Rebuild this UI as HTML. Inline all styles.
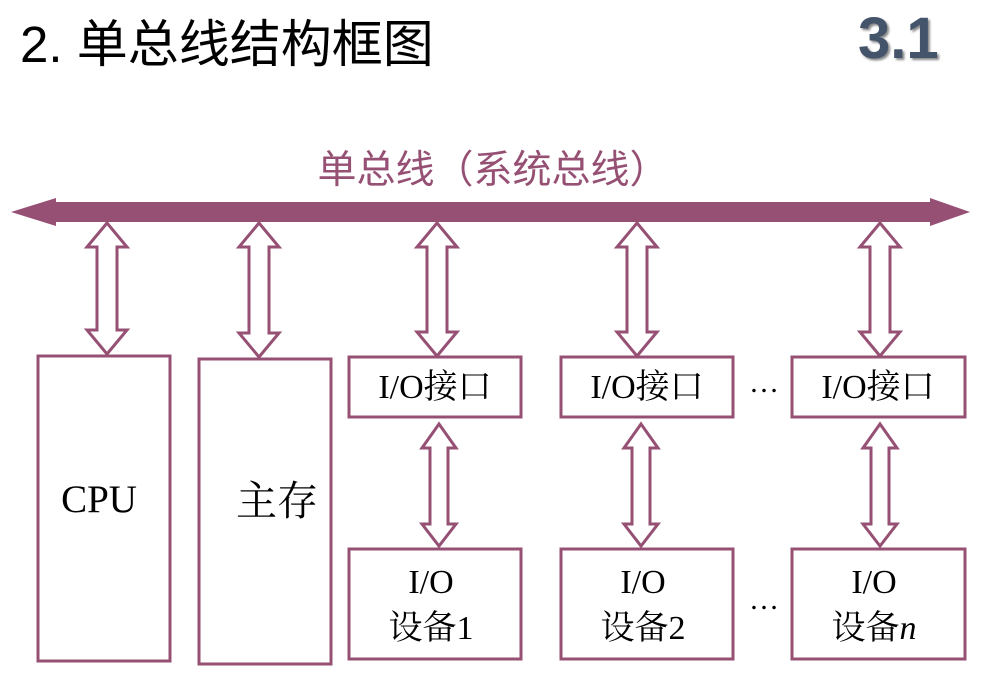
<!DOCTYPE html>
<html><head><meta charset="utf-8"><style>
body{margin:0;background:#fff;width:987px;height:685px;overflow:hidden}
svg{display:block}
</style></head><body>
<svg width="987" height="685" viewBox="0 0 987 685" xmlns="http://www.w3.org/2000/svg">
<text x="20" y="62" font-family="Liberation Sans, Noto Sans CJK SC, sans-serif" font-size="51" fill="#000">2. 单总线结构框图</text>
<text x="858" y="58" font-family="Liberation Sans, sans-serif" font-size="58" font-weight="bold" fill="#44546a" style="text-shadow:2px 2px 2px #888">3.1</text>
<text x="493" y="183" text-anchor="middle" font-family="Liberation Sans, Noto Sans CJK SC, sans-serif" font-size="39" fill="#955073">单总线（系统总线）</text>
<polygon points="11,212 56,198 56,202 930,202 930,198 970,212 930,226 930,222 56,222 56,226" fill="#955073"/>
<g fill="#fff" stroke="#955073" stroke-width="3" stroke-linejoin="miter">
<polygon points="107,223 127,247 117,247 117,330 127,330 107,354 87,330 97,330 97,247 87,247"/>
<polygon points="259,223 279,247 269,247 269,333 279,333 259,357 239,333 249,333 249,247 239,247"/>
<polygon points="437,223 457,247 447,247 447,332 457,332 437,356 417,332 427,332 427,247 417,247"/>
<polygon points="637,223 657,247 647,247 647,332 657,332 637,356 617,332 627,332 627,247 617,247"/>
<polygon points="880,223 900,247 890,247 890,332 900,332 880,356 860,332 870,332 870,247 860,247"/>
<polygon points="439,424 456,448 448,448 448,524 456,524 439,546 422,524 430,524 430,448 422,448"/>
<polygon points="641,424 658,448 650,448 650,524 658,524 641,546 624,524 632,524 632,448 624,448"/>
<polygon points="880,424 897,448 889,448 889,524 897,524 880,546 863,524 871,524 871,448 863,448"/>
<rect x="38" y="356" width="132" height="305"/>
<rect x="199" y="359" width="132" height="305"/>
<rect x="349" y="357" width="172" height="60"/>
<rect x="561" y="357" width="172" height="60"/>
<rect x="792" y="357" width="173" height="60"/>
<rect x="349" y="549" width="172" height="110"/>
<rect x="561" y="549" width="172" height="110"/>
<rect x="792" y="549" width="173" height="110"/>
</g>
<g font-family="Liberation Serif, Noto Serif CJK SC, serif" font-size="34" fill="#000" text-anchor="middle">
<text x="99" y="512" font-size="39">CPU</text>
<text x="277" y="515" font-size="41">主存</text>
<text x="435" y="398">I/O接口</text>
<text x="647" y="398">I/O接口</text>
<text x="878" y="398">I/O接口</text>
<text x="431" y="593">I/O</text><text x="431" y="639">设备1</text>
<text x="643" y="593">I/O</text><text x="643" y="639">设备2</text>
<text x="874" y="593">I/O</text><text x="874" y="639">设备<tspan font-style="italic">n</tspan></text>
<text x="764" y="392" font-size="30">…</text>
<text x="764" y="609" font-size="30">…</text>
</g>
</svg>
</body></html>
